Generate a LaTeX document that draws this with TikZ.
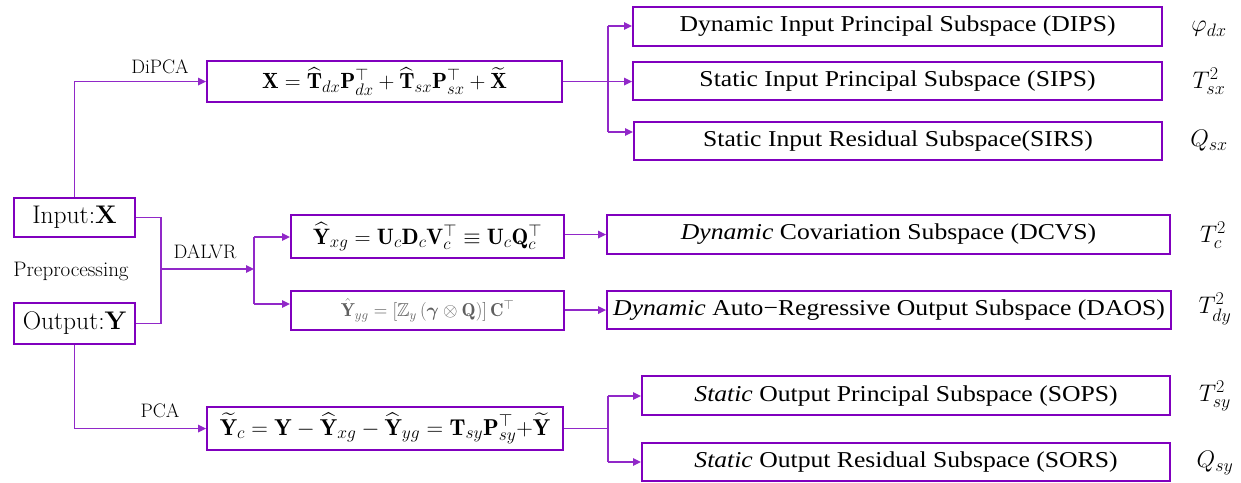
\RequirePackage{fix-cm}
\documentclass[tikz,border=0pt]{standalone}
\usepackage{amsmath,amssymb}
\usepackage{fontspec}
\newfontfamily\subfont[FakeStretch=1.13]{Liberation Serif}
\usetikzlibrary{arrows.meta,calc}
\DeclareMathSizes{23}{23}{17.5}{13}
\DeclareMathSizes{22}{22}{16.7}{12.5}
\DeclareMathSizes{22.3}{22.3}{17}{12.5}
\DeclareMathSizes{24}{24}{18}{13.5}
\definecolor{boxc}{RGB}{128,0,190}
\definecolor{linec}{RGB}{145,40,200}
\definecolor{grayf}{RGB}{95,95,95}
\begin{document}
\begin{tikzpicture}[x=1pt,y=-1pt,
  box/.style={draw=boxc,line width=2.1pt,inner sep=0pt,anchor=north west},
  subtext/.style={font=\subfont\fontsize{22.7}{27}\selectfont},
  mathtext/.style={font=\fontsize{23}{27}\selectfont},
  iotext/.style={font=\fontsize{25.5}{30}\selectfont},
  lbl/.style={font=\fontsize{19.5}{23}\selectfont,inner sep=0pt},
  rlbl/.style={font=\fontsize{24}{28}\selectfont,inner sep=0pt},
  conn/.style={draw=linec,line width=1.5pt},
  arr/.style={conn,-{Triangle[length=8pt,width=7.5pt]}}]
\useasboundingbox (0,0) rectangle (1241,482);
% left boxes
\node[box,iotext,minimum width=121pt,minimum height=39pt] (in) at (13,197) {Input:\textbf{X}};
\node[box,iotext,minimum width=121pt,minimum height=41pt] (out) at (13,302) {Output:\textbf{Y}};
\node[lbl,font=\fontsize{21}{24}\selectfont] (pre) at (71,271) {Preprocessing};
% formula boxes
\node[box,font=\fontsize{22}{26}\selectfont,minimum width=355pt,minimum height=41pt] (dipca) at (206,60)
  {$\mathbf{X}=\widehat{\mathbf{T}}_{dx}\mathbf{P}_{dx}^{\top}+\widehat{\mathbf{T}}_{sx}\mathbf{P}_{sx}^{\top}+\widetilde{\mathbf{X}}$};
\node[box,font=\fontsize{22.3}{26}\selectfont,minimum width=273pt,minimum height=43pt] (yxg) at (290,214)
  {$\widehat{\mathbf{Y}}_{xg}=\mathbf{U}_c\mathbf{D}_c\mathbf{V}_c^{\top}\equiv\mathbf{U}_c\mathbf{Q}_c^{\top}$};
\node[box,font=\fontsize{18.7}{22}\selectfont,text=grayf,minimum width=273pt,minimum height=39pt] (yyg) at (290,290)
  {$\hat{\mathbf{Y}}_{yg}=\left[\mathbb{Z}_y\left(\boldsymbol{\gamma}\otimes\mathbf{Q}\right)\right]\mathbf{C}^{\top}$};
\node[box,mathtext,minimum width=356pt,minimum height=43pt] (yc) at (206,406)
  {$\widetilde{\mathbf{Y}}_c=\mathbf{Y}-\widehat{\mathbf{Y}}_{xg}-\widehat{\mathbf{Y}}_{yg}=\mathbf{T}_{sy}\mathbf{P}_{sy}^{\top}{+}\widetilde{\mathbf{Y}}$};
% subspace boxes
\node[box,subtext,minimum width=529pt,minimum height=39pt] (dips) at (632,6) {Dynamic Input Principal Subspace (DIPS)};
\node[box,subtext,minimum width=529pt,minimum height=38pt] (sips) at (632,61) {Static Input Principal Subspace (SIPS)};
\node[box,subtext,minimum width=528pt,minimum height=38pt] (sirs) at (633,121) {Static Input Residual Subspace(SIRS)};
\node[box,subtext,minimum width=563pt,minimum height=39pt] (dcvs) at (606,214) {\textit{Dynamic} Covariation Subspace (DCVS)};
\node[box,subtext,minimum width=564pt,minimum height=38pt] (daos) at (606,290) {\textit{Dynamic} Auto\textminus Regressive Output Subspace (DAOS)};
\node[box,subtext,minimum width=528pt,minimum height=39pt] (sops) at (641,375) {\textit{Static} Output Principal Subspace (SOPS)};
\node[box,subtext,minimum width=528pt,minimum height=38pt] (sors) at (641,442) {\textit{Static} Output Residual Subspace (SORS)};
% right labels
\node[rlbl] (phi) at (1209,29) {$\varphi_{dx}$};
\node[rlbl] (tsx) at (1209,81) {$T_{sx}^2$};
\node[rlbl] (qsx) at (1209,141) {$Q_{sx}$};
\node[rlbl] (tc) at (1213,235) {$T_{c}^2$};
\node[rlbl] (tdy) at (1215,309) {$T_{dy}^2$};
\node[rlbl] (tsy) at (1215,396) {$T_{sy}^2$};
\node[rlbl] (qsy) at (1215,463) {$Q_{sy}$};
% connector labels
\node[lbl] (l1) at (160,67) {DiPCA};
\node[lbl] (l2) at (205,252) {DALVR};
\node[lbl] (l3) at (160,411) {PCA};
% junctions
\coordinate (j1) at (161,269);
\coordinate (j2) at (254,269);
\coordinate (b1) at (254,237);
\coordinate (b2) at (254,304);
\coordinate (b3) at (608,26);
\coordinate (b4) at (608,132);
\coordinate (b5) at (608,396);
\coordinate (b6) at (608,462);
% connectors
\draw[arr] (in.north) |- (dipca.west);
\draw[conn] (in.east) -- (in.east -| j1) -- (out.east -| j1) -- (out.east);
\draw[arr] (j1) -- (j2);
\draw[conn] (b1) -- (b2);
\draw[arr] (b1) -- (b1 -| yxg.west);
\draw[arr] (b2) -- (b2 -| yyg.west);
\draw[arr] (dcvs.west -| yxg.east) -- (dcvs.west);
\draw[arr] (daos.west -| yyg.east) -- (daos.west);
\draw[conn] (b3) -- (b4);
\draw[arr] (dipca.east) -- (dipca.east -| sips.west);
\draw[arr] (b3) -- (b3 -| dips.west);
\draw[arr] (b4) -- (b4 -| sirs.west);
\draw[arr] (out.south) |- (yc.west);
\draw[conn] (yc.east) -- (yc.east -| b5);
\draw[conn] (b5) -- (b6);
\draw[arr] (b5) -- (b5 -| sops.west);
\draw[arr] (b6) -- (b6 -| sors.west);
\end{tikzpicture}
\end{document}
